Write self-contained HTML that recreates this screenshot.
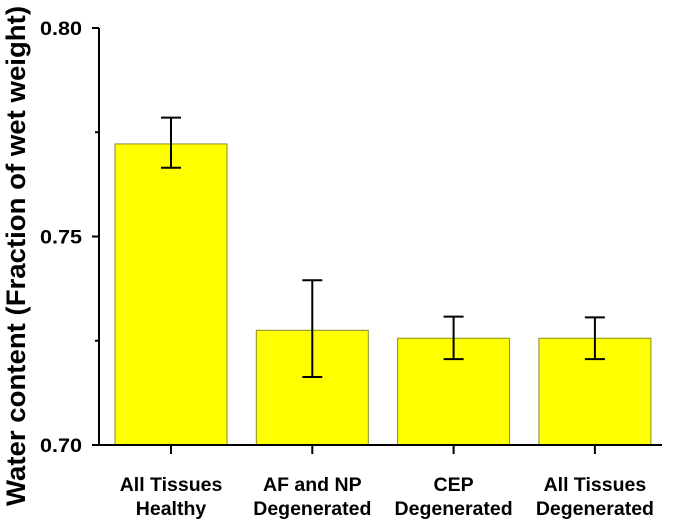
<!DOCTYPE html>
<html><head><meta charset="utf-8"><style>
body{margin:0;background:#fff}
svg{display:block;font-family:"Liberation Sans",Arial,sans-serif;font-weight:bold}
</style></head><body>
<svg id="chart" width="675" height="524" viewBox="0 0 675 524">
<g id="marks"></g>
<g id="axes"></g>
</svg>
<script>
const categoriesLine1 = ["All Tissues","AF and NP","CEP","All Tissues"];
const categoriesLine2 = ["Healthy","Degenerated","Degenerated","Degenerated"];
const values = [0.7722, 0.7275, 0.7256, 0.7256];
const errUpper = [0.7785, 0.7395, 0.7308, 0.7306];
const errLower = [0.7665, 0.7163, 0.7206, 0.7206];
const yTicks = [0.70, 0.75, 0.80];
const yTickLabels = ["0.70","0.75","0.80"];
const yMinorTicks = [0.725, 0.775];

const NS="http://www.w3.org/2000/svg";
const x0=99, yTop=28, yBot=445, yMin=0.70, yMax=0.80;
const y = v => yBot - (v-yMin)/(yMax-yMin)*(yBot-yTop);
const xc = i => 171 + i*141.3;
const bw = 112;
const marks=document.getElementById('marks'), axes=document.getElementById('axes');
function mk(tag, attrs, parent){const e=document.createElementNS(NS,tag);for(const k in attrs)e.setAttribute(k,attrs[k]);parent.appendChild(e);return e;}

values.forEach((v,i)=>{
  const b=mk('rect',{x:xc(i)-bw/2,y:y(v),width:bw,height:yBot-y(v),fill:'#ffff00',stroke:'#8a8a30','stroke-width':1},marks);
  
  
  const g=mk('g',{stroke:'#000','stroke-width':2},marks);
  
  
  mk('line',{x1:xc(i),x2:xc(i),y1:y(errUpper[i]),y2:y(errLower[i])},g);
  mk('line',{x1:xc(i)-10,x2:xc(i)+10,y1:y(errUpper[i]),y2:y(errUpper[i])},g);
  mk('line',{x1:xc(i)-10,x2:xc(i)+10,y1:y(errLower[i]),y2:y(errLower[i])},g);
  const t=mk('text',{x:xc(i),y:491,'text-anchor':'middle','font-size':19.5},axes);
  t.textContent=categoriesLine1[i];
  
  
  const t2=mk('text',{x:xc(i),y:515,'text-anchor':'middle','font-size':19.5},axes);
  t2.textContent=categoriesLine2[i];
  
  
  mk('line',{x1:xc(i),x2:xc(i),y1:yBot,y2:yBot+9,stroke:'#000','stroke-width':2},axes);
});
const ya=mk('line',{x1:x0,x2:x0,y1:yTop,y2:yBot+1,stroke:'#000','stroke-width':2},axes);


const xa=mk('line',{x1:x0-6,x2:662,y1:yBot,y2:yBot,stroke:'#000','stroke-width':2},axes);


yTicks.forEach((v,i)=>{
  mk('line',{x1:x0-7,x2:x0,y1:y(v),y2:y(v),stroke:'#000','stroke-width':2},axes);
  const t=mk('text',{x:x0-17,y:y(v)+7,'text-anchor':'end','font-size':19,textLength:42,lengthAdjust:'spacingAndGlyphs'},axes);
  t.textContent=yTickLabels[i];
  
  
});
yMinorTicks.forEach(v=>mk('line',{x1:x0-4,x2:x0,y1:y(v),y2:y(v),stroke:'#000','stroke-width':2},axes));
const yt=mk('text',{x:0,y:0,'text-anchor':'middle','font-size':27,textLength:500,lengthAdjust:'spacingAndGlyphs',transform:'translate(25,256) rotate(-90)'},axes);
yt.textContent='Water content (Fraction of wet weight)';


</script>
</body></html>
